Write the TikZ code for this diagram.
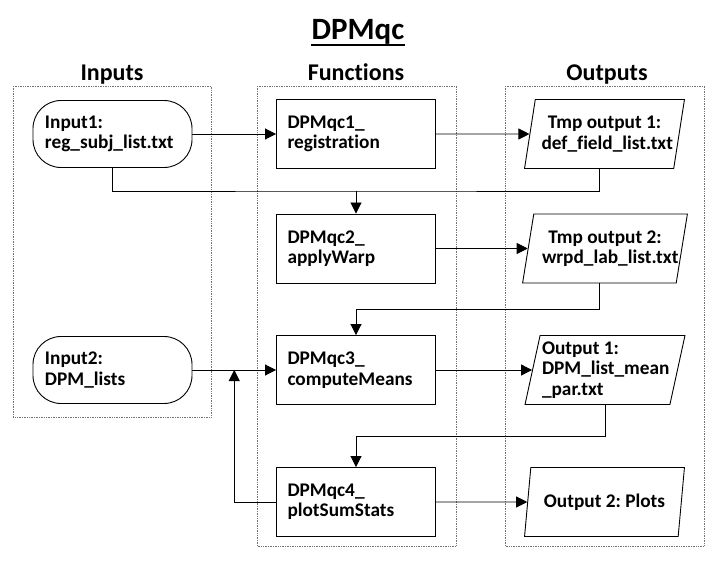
\documentclass[tikz,border=0pt]{standalone}
\usepackage{fontspec}
\setmainfont{Carlito}[Ligatures=NoCommon]
\usetikzlibrary{shapes.geometric,arrows.meta,calc}

\begin{document}
\begin{tikzpicture}[x=1pt,y=-1pt,
  font=\bfseries\fontsize{19.3}{20.5}\selectfont\frenchspacing,
  group/.style={draw=black!55,densely dotted,line width=0.7pt},
  func/.style={draw,line width=0.9pt,fill=white,minimum width=159pt,minimum height=69pt,text width=137pt,inner xsep=0pt,align=flush left},
  inp/.style={draw,line width=0.9pt,fill=white,rounded corners=28pt,minimum width=159pt,minimum height=67pt,text width=135pt,inner xsep=0pt,align=flush left},
  outp/.style={draw,line width=0.9pt,fill=white,trapezium,trapezium left angle=77,trapezium right angle=103,trapezium stretches=true,minimum width=160pt,minimum height=69pt,text width=126pt,inner xsep=0pt,align=flush center},
  conn/.style={line width=0.9pt,-{Triangle[length=11pt,width=11pt]}},
  wire/.style={line width=0.9pt}]
\useasboundingbox (0,0) rectangle (718,567);

\node[font=\bfseries\fontsize{31}{36}\selectfont,inner sep=0pt,anchor=base] (title) at (358,40) {DPMqc};
\path[draw,line width=2.2pt] ([yshift=-5pt]title.base west) -- ([yshift=-5pt]title.base east);

\node[font=\bfseries\fontsize{24}{28}\selectfont,anchor=base] (hin) at (112,81) {Inputs};
\node[font=\bfseries\fontsize{24}{28}\selectfont,anchor=base] (hfn) at (356,81) {Functions};
\node[font=\bfseries\fontsize{24}{28}\selectfont,anchor=base] (hout) at (607,81) {Outputs};

\path[group] (13,86) rectangle (211,417);
\path[group] (257,86) rectangle (456,546);
\path[group] (505,86) rectangle (704,546);

\node[inp] (i1) at (112.5,134) {Input1:\\reg\_subj\_list.txt};
\node[func] (f1) at (356,134) {DPMqc1\_\\registration};
\node[outp] (o1) at (604.5,134) {Tmp output 1:\\def\_field\_list.txt};
\node[func] (f2) at (356,248.5) {DPMqc2\_\\applyWarp};
\node[outp,minimum width=165pt] (o2) at (605,248.5) {Tmp output 2:\\wrpd\_lab\_list.txt};
\node[inp] (i2) at (112.5,370) {Input2:\\DPM\_lists};
\node[func] (f3) at (356,370) {DPMqc3\_\\computeMeans};
\node[outp,align=flush left] (o3) at (605,370) {Output 1:\\DPM\_list\_mean\\\_par.txt};
\node[func] (f4) at (356,502) {DPMqc4\_\\plotSumStats};
\node[outp] (o4) at (604.5,502) {Output 2: Plots};

\coordinate (j1) at (356,191);
\coordinate (o1b) at ($(o1.bottom left corner)!0.5!(o1.bottom right corner)$);
\coordinate (o2b) at ($(o2.bottom left corner)!0.5!(o2.bottom right corner)$);
\coordinate (j2) at ($(i2.east)!0.5!(f3.west)$);

\path[draw,conn] (i1) -- (f1);
\path[draw,conn] (f1) -- (o1);
\path[draw,wire] (i1.south) |- (j1) -| (o1b);
\path[draw,conn] (j1) -- (f2);
\path[draw,conn] (f2) -- (o2);
\path[draw,conn] (o2b) -- ++(0,26) -| (f3.north);
\path[draw,conn] (i2) -- (f3);
\path[draw,conn] (f3) -- (o3);
\path[draw,conn] (o3.center |- o3.south) -- ++(0,31) -| (f4.north);
\path[draw,conn] (f4) -- (o4);
\path[draw,conn] (f4.west) -| (j2);
\end{tikzpicture}
\end{document}
